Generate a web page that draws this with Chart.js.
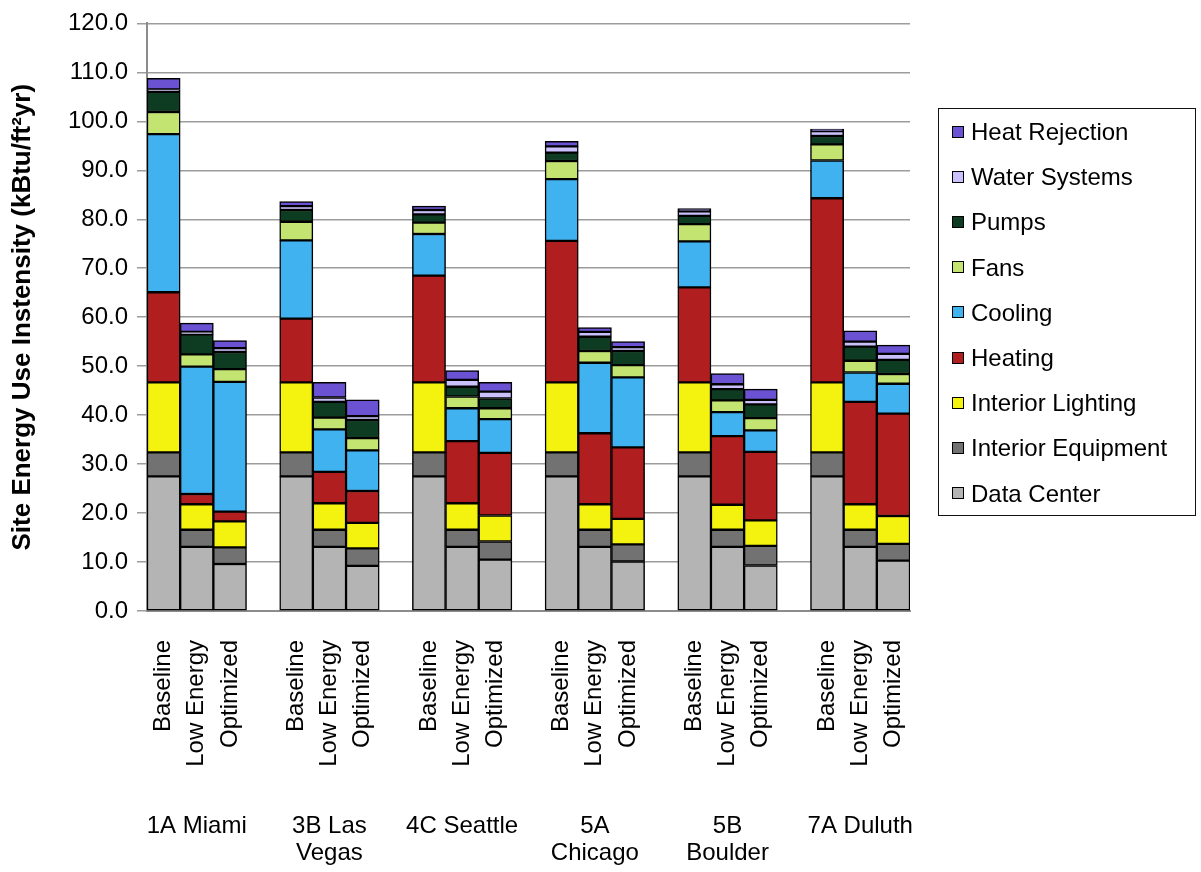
<!DOCTYPE html>
<html>
<head>
<meta charset="utf-8">
<title>Site Energy Use Intensity</title>
<script src="https://cdn.jsdelivr.net/npm/chart.js@4.4.0/dist/chart.umd.min.js"></script>
<style>
  html, body { margin: 0; padding: 0; background: #fff; }
  #wrap { position: relative; width: 1201px; height: 872px; }
  #legend {
    position: absolute; left: 938px; top: 108px; width: 256px; height: 406px;
    border: 1.5px solid #111; font: 24px 'Liberation Sans', Arial, sans-serif; color: #000;
  }
  #legend div { height: 45.2px; line-height: 45.2px; white-space: nowrap; }
  #legend span.box {
    display: inline-block; width: 10px; height: 10px; border: 1.5px solid #000;
    margin: 0 7px 0 13px; vertical-align: middle; position: relative; top: -2px;
  }
</style>
</head>
<body>
<div id="wrap">
  <canvas id="euiChart" width="1201" height="872"></canvas>
  <div id="legend"></div>
</div>
<script>
// climate zones and the three design cases modelled in each
const groups = [['1A Miami'], ['3B Las', 'Vegas'], ['4C Seattle'], ['5A', 'Chicago'], ['5B', 'Boulder'], ['7A Duluth']];
const scenarios = ['Baseline', 'Low Energy', 'Optimized'];

// end uses in kBtu/ft2yr, ordered Miami B/L/O, Las Vegas B/L/O, ... Duluth B/L/O
const dataCenter   = [27.5, 13.1, 9.6,  27.5, 13.1, 9.2,  27.5, 13.1, 10.5, 27.5, 13.1, 10.1, 27.5, 13.1, 9.3,  27.5, 13.1, 10.3];
const intEquipment = [4.9, 3.5, 3.4,    4.9, 3.5, 3.6,    4.9, 3.5, 3.7,    4.9, 3.5, 3.5,    4.9, 3.5, 4.0,    4.9, 3.5, 3.4];
const intLighting  = [14.3, 5.2, 5.3,   14.3, 5.4, 5.2,   14.3, 5.4, 5.3,   14.3, 5.2, 5.2,   14.3, 5.1, 5.2,   14.3, 5.2, 5.7];
const heating      = [18.4, 2.1, 2.0,   13.0, 6.4, 6.5,   21.8, 12.7, 12.8, 28.9, 14.5, 14.6, 19.4, 14.0, 14.0, 37.6, 20.9, 20.9];
const cooling      = [32.3, 26.0, 26.5, 16.0, 8.7, 8.3,   8.5, 6.7, 6.9,    12.6, 14.4, 14.3, 9.4, 4.9, 4.4,    7.7, 6.0, 6.1];
const fans         = [4.5, 2.5, 2.6,    3.8, 2.4, 2.5,    2.3, 2.4, 2.2,    3.7, 2.4, 2.5,    3.5, 2.4, 2.5,    3.3, 2.4, 2.0];
const pumps        = [4.1, 4.1, 3.5,    2.4, 3.2, 3.7,    1.7, 2.0, 2.0,    1.7, 2.9, 2.9,    1.7, 2.3, 2.8,    1.7, 2.9, 2.9];
const waterSystems = [0.5, 0.5, 0.8,    0.8, 0.9, 0.8,    0.9, 1.4, 1.4,    1.3, 1.0, 0.8,    0.9, 1.0, 0.9,    1.0, 1.0, 1.2];
const heatRejection= [2.3, 1.8, 1.5,    0.9, 3.1, 3.3,    0.8, 1.9, 1.9,    1.0, 0.9, 1.1,    0.6, 2.2, 2.2,    0.4, 2.2, 1.8];

const yTicks = { min: 0, max: 120, step: 10 };

// an empty slot between climate zones keeps the groups apart
function spaced(values) {
    let out = [];
    for (let g = 0; g < groups.length; g++) {
        for (let s = 0; s < scenarios.length; s++) {
            out.push(values[g * scenarios.length + s]);
        }
        if (g < groups.length - 1) out.push(null);
    }
    return out;
}

let labels = [];
for (let g = 0; g < groups.length; g++) {
    labels.push(...scenarios);
    if (g < groups.length - 1) labels.push('');
}

const series = [
    { label: 'Data Center',        data: dataCenter,    color: '#b4b4b4' },
    { label: 'Interior Equipment', data: intEquipment,  color: '#727272' },
    { label: 'Interior Lighting',  data: intLighting,   color: '#f4f20f' },
    { label: 'Heating',            data: heating,       color: '#b01e20' },
    { label: 'Cooling',            data: cooling,       color: '#40b2ef' },
    { label: 'Fans',               data: fans,          color: '#c4e472' },
    { label: 'Pumps',              data: pumps,         color: '#0e3c22' },
    { label: 'Water Systems',      data: waterSystems,  color: '#c9c0fc' },
    { label: 'Heat Rejection',     data: heatRejection, color: '#6a52d2' }
];

const FONT = "'Liberation Sans', Arial, sans-serif";

const datasets = series.map(s => ({
    label: s.label,
    data: spaced(s.data),
    backgroundColor: s.color,
    borderColor: '#000',
    borderWidth: 1.5,
    borderSkipped: false,
    barPercentage: 1,
    categoryPercentage: 1
}));

// zone names under each group of three bars
const zoneLabels = {
    id: 'zoneLabels',
    afterDraw: (chart) => {
        const ctx = chart.ctx;
        const x = chart.scales.x;
        const base = chart.chartArea.bottom;
        ctx.save();
        ctx.font = '24px ' + FONT;
        ctx.fillStyle = '#000';
        ctx.textAlign = 'center';
        ctx.textBaseline = 'middle';
        groups.forEach((lines, g) => {
            const first = g * (scenarios.length + 1);
            const cx = (x.getPixelForValue(first) + x.getPixelForValue(first + scenarios.length - 1)) / 2;
            lines.forEach((line, i) => ctx.fillText(line, cx, base + 215 + i * 27));
        });
        ctx.restore();
    }
};

const chart = new Chart(document.getElementById('euiChart'), {
    type: 'bar',
    data: { labels: labels, datasets: datasets },
    options: {
        responsive: false,
        animation: false,
        layout: { padding: { top: 19, right: 291, bottom: 0, left: 0 } },
        plugins: {
            legend: { display: false },
            tooltip: { enabled: false }
        },
        scales: {
            x: {
                stacked: true,
                grid: { display: false, drawTicks: false },
                border: { display: true, color: '#8c8c8c', width: 2 },
                ticks: {
                    autoSkip: false,
                    minRotation: 90,
                    maxRotation: 90,
                    padding: 29,
                    color: '#000',
                    font: { family: FONT, size: 24 }
                },
                afterFit: (scale) => { scale.height = 261; }
            },
            y: {
                stacked: true,
                min: yTicks.min,
                max: yTicks.max,
                grid: { color: '#9c9c9c', lineWidth: 1.5, tickLength: 10 },
                border: { display: true, color: '#8c8c8c', width: 2 },
                ticks: {
                    stepSize: yTicks.step,
                    padding: 9,
                    color: '#000',
                    font: { family: FONT, size: 24 },
                    callback: (v) => v.toFixed(1)
                },
                title: {
                    display: true,
                    text: 'Site Energy Use Instensity (kBtu/ft\u00b2yr)',
                    color: '#000',
                    padding: { top: 7, bottom: 0 },
                    font: { family: FONT, size: 26, weight: 'bold' }
                },
                afterFit: (scale) => { scale.width = 147; }
            }
        }
    },
    plugins: [zoneLabels]
});

// legend, top entry is the top of the stack
const legendEl = document.getElementById('legend');
chart.data.datasets.slice().reverse().forEach(ds => {
    const row = document.createElement('div');
    const box = document.createElement('span');
    box.className = 'box';
    box.style.background = ds.backgroundColor;
    row.appendChild(box);
    row.appendChild(document.createTextNode(ds.label));
    legendEl.appendChild(row);
});
</script>
</body>
</html>
